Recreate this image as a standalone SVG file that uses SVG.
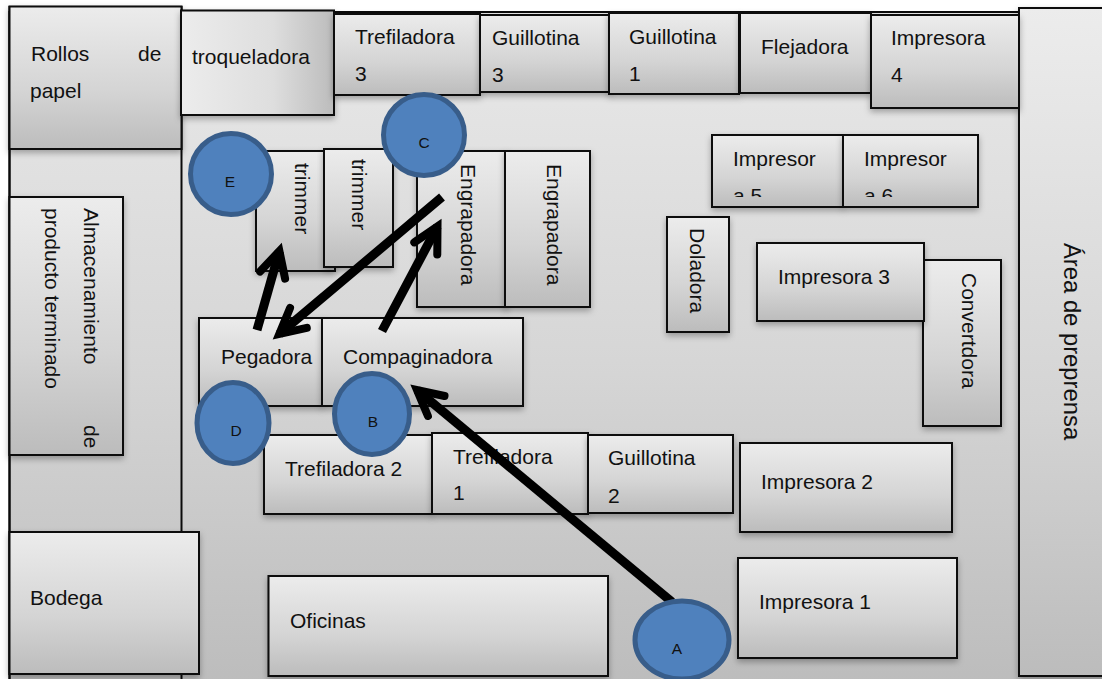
<svg xmlns="http://www.w3.org/2000/svg" width="1102" height="679" viewBox="0 0 1102 679">
<style>
.box{fill:url(#gv);stroke:#0a0a0a;stroke-width:2;filter:url(#sh)}
.boxh{fill:url(#gh);stroke:#0a0a0a;stroke-width:2;filter:url(#sh)}
text{font-family:"Liberation Sans",Arial,sans-serif;font-size:21px;fill:#111}
.big{font-size:23.8px}
.cl{font-size:15.5px;text-anchor:middle}
.node{fill:#4f81bd;stroke:#385d8a;stroke-width:5}
.arrow{fill:none;stroke:#000;stroke-width:9;marker-end:url(#ah)}
</style>
<defs>
<linearGradient id="gv" x1="0" y1="0" x2="0" y2="1"><stop offset="0" stop-color="#ececec"/><stop offset="0.6" stop-color="#d4d4d4"/><stop offset="1" stop-color="#bcbcbc"/></linearGradient>
<linearGradient id="gh" x1="0" y1="0" x2="1" y2="0"><stop offset="0" stop-color="#ececec"/><stop offset="0.6" stop-color="#dedede"/><stop offset="1" stop-color="#bcbcbc"/></linearGradient>
<linearGradient id="bg" x1="0" y1="0" x2="0" y2="1"><stop offset="0" stop-color="#e9e9e9"/><stop offset="0.5" stop-color="#d6d6d6"/><stop offset="1" stop-color="#bababa"/></linearGradient>
<filter id="sh" x="-10%" y="-10%" width="120%" height="125%"><feDropShadow dx="0" dy="3" stdDeviation="3" flood-color="#000" flood-opacity="0.3"/></filter>
<marker id="ah" markerUnits="userSpaceOnUse" markerWidth="40" markerHeight="40" refX="30" refY="20" orient="auto" overflow="visible"><path d="M5,7 L30,20 L5,33" fill="none" stroke="#000" stroke-width="8" stroke-linecap="round" stroke-miterlimit="10"/></marker>
<clipPath id="c5"><rect x="712" y="135" width="270" height="62"/></clipPath>
</defs>
<rect id="floor" x="9.5" y="12" width="1120" height="700" fill="url(#bg)" stroke="#0a0a0a" stroke-width="2"/>
<rect id="left-aisle" x="9.5" y="7" width="172" height="700" fill="none" stroke="#0a0a0a" stroke-width="2"/>
<g id="n-preprensa"><rect class="box" x="1019" y="8" width="110" height="668"/><text class="big" transform="translate(1064,243) rotate(90)">Área de preprensa</text></g>
<g id="n-rollos"><rect class="box" x="9.5" y="6.5" width="172" height="142.5"/><text x="31" y="61">Rollos</text><text x="138" y="61">de</text><text x="30" y="98">papel</text></g>
<g id="n-troqueladora"><rect class="boxh" x="181" y="10.5" width="153" height="104.5"/><text x="192" y="64">troqueladora</text></g>
<g id="n-trefiladora3"><rect class="box" x="334" y="14" width="146" height="81"/><text x="355" y="44">Trefiladora</text><text x="355" y="81">3</text></g>
<g id="n-guillotina3"><rect class="box" x="480" y="15" width="130" height="77"/><text x="492" y="45">Guillotina</text><text x="492" y="82">3</text></g>
<g id="n-guillotina1"><rect class="box" x="609" y="13" width="130" height="81"/><text x="629" y="44">Guillotina</text><text x="629" y="81">1</text></g>
<g id="n-flejadora"><rect class="box" x="740" y="13" width="131" height="80"/><text x="761" y="54">Flejadora</text></g>
<g id="n-impresora4"><rect class="box" x="871" y="15" width="148" height="93"/><text x="891" y="45">Impresora</text><text x="891" y="82">4</text></g>
<g id="n-almacen"><rect class="box" x="9.5" y="197" width="113.5" height="258"/><text transform="translate(84,208) rotate(90)">Almacenamiento</text><text transform="translate(45,208) rotate(90)">producto terminado</text><text transform="translate(84,425) rotate(90)">de</text></g>
<g id="n-impresora5"><rect class="box" x="712" y="135" width="131" height="72"/><text x="733" y="166">Impresor</text><text x="733" y="203" clip-path="url(#c5)">a 5</text></g>
<g id="n-impresora6"><rect class="box" x="843" y="135" width="135" height="72"/><text x="864" y="166">Impresor</text><text x="864" y="203" clip-path="url(#c5)">a 6</text></g>
<g id="n-doladora"><rect class="box" x="667" y="217" width="62" height="115"/><text transform="translate(690,228) rotate(90)">Doladora</text></g>
<g id="n-convertdora"><rect class="box" x="923" y="260" width="78" height="166"/><text transform="translate(962,273) rotate(90)">Convertdora</text></g>
<g id="n-impresora3"><rect class="box" x="757" y="243" width="167" height="78"/><text x="778" y="284">Impresora 3</text></g>
<g id="n-trimmer1"><rect class="box" x="256" y="151" width="79" height="120"/><text transform="translate(295,163) rotate(90)">trimmer</text></g>
<g id="n-trimmer2"><rect class="box" x="324" y="149" width="69" height="118"/><text transform="translate(352,159) rotate(90)">trimmer</text></g>
<g id="n-engrapadora1"><rect class="box" x="417" y="151" width="90" height="156"/><text transform="translate(461,164) rotate(90)">Engrapadora</text></g>
<g id="n-engrapadora2"><rect class="box" x="505" y="151" width="85" height="156"/><text transform="translate(547,164) rotate(90)">Engrapadora</text></g>
<g id="n-pegadora"><rect class="box" x="199" y="318" width="123" height="88"/><text x="221" y="364">Pegadora</text></g>
<g id="n-compaginadora"><rect class="box" x="322" y="318" width="201" height="88"/><text x="343" y="364">Compaginadora</text></g>
<g id="n-trefiladora2"><rect class="box" x="264" y="435" width="168" height="79"/><text x="285" y="476">Trefiladora 2</text></g>
<g id="n-trefiladora1"><rect class="box" x="432" y="433" width="156" height="81"/><text x="453" y="464">Trefiladora</text><text x="453" y="500">1</text></g>
<g id="n-guillotina2"><rect class="box" x="588" y="435" width="145" height="78"/><text x="608" y="465">Guillotina</text><text x="608" y="503">2</text></g>
<g id="n-impresora2"><rect class="box" x="740" y="443" width="212" height="89"/><text x="761" y="489">Impresora 2</text></g>
<g id="n-impresora1"><rect class="box" x="738" y="558" width="219" height="100"/><text x="759" y="609">Impresora 1</text></g>
<g id="n-bodega"><rect class="box" x="9.5" y="532" width="189.5" height="142"/><text x="30" y="605">Bodega</text></g>
<g id="n-oficinas"><rect class="box" x="268.5" y="576" width="339.5" height="100"/><text x="290" y="628">Oficinas</text></g>
<g id="connectors">
<path class="arrow" d="M672,602 L417,390"/>
<path class="arrow" d="M257,330 L279.4,251"/>
<path class="arrow" d="M442,197 L279.3,334"/>
<path class="arrow" d="M382,331 L437.5,226.4"/>
</g>
<g id="n-a"><ellipse class="node" cx="682" cy="640" rx="47" ry="39"/><text class="cl" x="677" y="654">A</text></g>
<g id="n-b"><ellipse class="node" cx="372" cy="414" rx="37.5" ry="40.5"/><text class="cl" x="373" y="427">B</text></g>
<g id="n-c"><circle class="node" cx="424" cy="135" r="40.5"/><text class="cl" x="424" y="148">C</text></g>
<g id="n-d"><ellipse class="node" cx="233" cy="423" rx="36" ry="40.5"/><text class="cl" x="236" y="436">D</text></g>
<g id="n-e"><circle class="node" cx="231" cy="174" r="40.5"/><text class="cl" x="230" y="187">E</text></g>
</svg>
